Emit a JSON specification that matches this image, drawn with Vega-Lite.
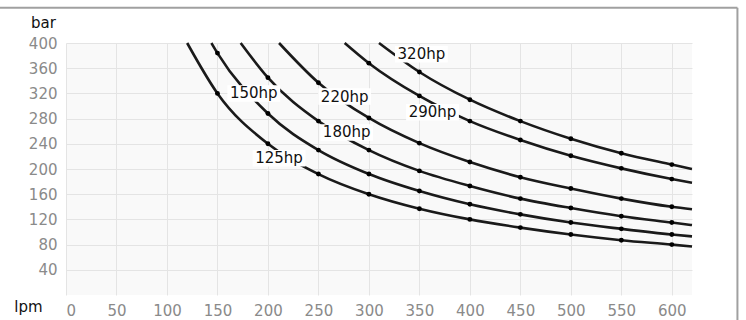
{
  "$schema": "https://vega.github.io/schema/vega-lite/v6.json",
  "width": 626,
  "height": 252,
  "autosize": "none",
  "padding": {"left": 66, "top": 43, "right": 54, "bottom": 25},
  "background": "white",
  "config": {
    "view": {"fill": "#f9f9f9", "stroke": null},
    "axis": {
      "grid": true,
      "gridColor": "#e4e4e4",
      "gridWidth": 1,
      "ticks": false,
      "domain": false,
      "labelOverlap": false,
      "labelColor": "#8a8a8a",
      "labelFont": "DejaVu Sans",
      "labelFontSize": 15,
      "titleFont": "DejaVu Sans",
      "titleFontSize": 15,
      "titleFontWeight": "normal",
      "titleColor": "#111111",
      "titleAngle": 0,
      "titleAlign": "center",
      "titleBaseline": "middle"
    }
  },
  "datasets": {
    "curves": [
      {"hp": "125hp", "lpm": 120, "bar": 400},
      {"hp": "125hp", "lpm": 150, "bar": 320},
      {"hp": "125hp", "lpm": 200, "bar": 240},
      {"hp": "125hp", "lpm": 250, "bar": 192},
      {"hp": "125hp", "lpm": 300, "bar": 160},
      {"hp": "125hp", "lpm": 350, "bar": 137},
      {"hp": "125hp", "lpm": 400, "bar": 120},
      {"hp": "125hp", "lpm": 450, "bar": 107},
      {"hp": "125hp", "lpm": 500, "bar": 96},
      {"hp": "125hp", "lpm": 550, "bar": 87},
      {"hp": "125hp", "lpm": 600, "bar": 80},
      {"hp": "125hp", "lpm": 620, "bar": 77},
      {"hp": "150hp", "lpm": 144, "bar": 400},
      {"hp": "150hp", "lpm": 150, "bar": 384},
      {"hp": "150hp", "lpm": 200, "bar": 288},
      {"hp": "150hp", "lpm": 250, "bar": 230},
      {"hp": "150hp", "lpm": 300, "bar": 192},
      {"hp": "150hp", "lpm": 350, "bar": 165},
      {"hp": "150hp", "lpm": 400, "bar": 144},
      {"hp": "150hp", "lpm": 450, "bar": 128},
      {"hp": "150hp", "lpm": 500, "bar": 115},
      {"hp": "150hp", "lpm": 550, "bar": 105},
      {"hp": "150hp", "lpm": 600, "bar": 96},
      {"hp": "150hp", "lpm": 620, "bar": 93},
      {"hp": "180hp", "lpm": 173, "bar": 400},
      {"hp": "180hp", "lpm": 200, "bar": 345},
      {"hp": "180hp", "lpm": 250, "bar": 276},
      {"hp": "180hp", "lpm": 300, "bar": 230},
      {"hp": "180hp", "lpm": 350, "bar": 197},
      {"hp": "180hp", "lpm": 400, "bar": 173},
      {"hp": "180hp", "lpm": 450, "bar": 153},
      {"hp": "180hp", "lpm": 500, "bar": 138},
      {"hp": "180hp", "lpm": 550, "bar": 125},
      {"hp": "180hp", "lpm": 600, "bar": 115},
      {"hp": "180hp", "lpm": 620, "bar": 111},
      {"hp": "220hp", "lpm": 211, "bar": 400},
      {"hp": "220hp", "lpm": 250, "bar": 337},
      {"hp": "220hp", "lpm": 300, "bar": 281},
      {"hp": "220hp", "lpm": 350, "bar": 241},
      {"hp": "220hp", "lpm": 400, "bar": 211},
      {"hp": "220hp", "lpm": 450, "bar": 187},
      {"hp": "220hp", "lpm": 500, "bar": 169},
      {"hp": "220hp", "lpm": 550, "bar": 153},
      {"hp": "220hp", "lpm": 600, "bar": 140},
      {"hp": "220hp", "lpm": 620, "bar": 136},
      {"hp": "290hp", "lpm": 276, "bar": 400},
      {"hp": "290hp", "lpm": 300, "bar": 368},
      {"hp": "290hp", "lpm": 350, "bar": 316},
      {"hp": "290hp", "lpm": 400, "bar": 276},
      {"hp": "290hp", "lpm": 450, "bar": 246},
      {"hp": "290hp", "lpm": 500, "bar": 221},
      {"hp": "290hp", "lpm": 550, "bar": 201},
      {"hp": "290hp", "lpm": 600, "bar": 184},
      {"hp": "290hp", "lpm": 620, "bar": 178},
      {"hp": "320hp", "lpm": 310, "bar": 400},
      {"hp": "320hp", "lpm": 350, "bar": 354},
      {"hp": "320hp", "lpm": 400, "bar": 310},
      {"hp": "320hp", "lpm": 450, "bar": 276},
      {"hp": "320hp", "lpm": 500, "bar": 248},
      {"hp": "320hp", "lpm": 550, "bar": 225},
      {"hp": "320hp", "lpm": 600, "bar": 207},
      {"hp": "320hp", "lpm": 620, "bar": 200}
    ],
    "labels": [
      {"hp": "320hp", "lpm": 352, "bar": 382},
      {"hp": "290hp", "lpm": 363, "bar": 290},
      {"hp": "220hp", "lpm": 276, "bar": 315},
      {"hp": "180hp", "lpm": 278, "bar": 258},
      {"hp": "150hp", "lpm": 186, "bar": 320},
      {"hp": "125hp", "lpm": 211, "bar": 217}
    ],
    "frame": [{}]
  },
  "layer": [
    {
      "data": {"name": "curves"},
      "mark": {"type": "line", "color": "#1a1a1a", "strokeWidth": 2.6, "interpolate": "monotone"},
      "encoding": {
        "x": {
          "field": "lpm", "type": "quantitative",
          "scale": {"domain": [0, 620], "nice": false, "zero": false},
          "axis": {
            "values": [0, 50, 100, 150, 200, 250, 300, 350, 400, 450, 500, 550, 600],
            "tickCount": 30,
            "labelOverlap": false,
            "labelPadding": 8,
            "labelBaseline": "top",
            "title": "lpm",
            "titleX": -38,
            "titleY": 11
          }
        },
        "y": {
          "field": "bar", "type": "quantitative",
          "scale": {"domain": [0, 400], "nice": false},
          "axis": {
            "values": [40, 80, 120, 160, 200, 240, 280, 320, 360, 400],
            "tickCount": 30,
            "labelOverlap": false,
            "labelPadding": 9,
            "title": "bar",
            "titleX": -23,
            "titleY": -21
          }
        },
        "detail": {"field": "hp"}
      }
    },
    {
      "data": {"name": "curves"},
      "transform": [{"filter": "datum.lpm % 50 == 0"}],
      "mark": {"type": "circle", "color": "#000000", "size": 24, "opacity": 1},
      "encoding": {
        "x": {"field": "lpm", "type": "quantitative"},
        "y": {"field": "bar", "type": "quantitative"}
      }
    },
    {
      "data": {"name": "labels"},
      "mark": {"type": "point", "shape": "M-1.6,-0.5H1.6V0.5H-1.6Z", "size": 1089, "filled": true, "color": "#ffffff", "opacity": 1},
      "encoding": {
        "x": {"field": "lpm", "type": "quantitative"},
        "y": {"field": "bar", "type": "quantitative"}
      }
    },
    {
      "data": {"name": "labels"},
      "mark": {"type": "text", "font": "DejaVu Sans", "fontSize": 15, "color": "#111111", "align": "center", "baseline": "middle"},
      "encoding": {
        "x": {"field": "lpm", "type": "quantitative"},
        "y": {"field": "bar", "type": "quantitative"},
        "text": {"field": "hp"}
      }
    },
    {
      "data": {"name": "frame"},
      "mark": {"type": "rule", "color": "#a0a0a0", "strokeWidth": 2},
      "encoding": {
        "x": {"datum": -66},
        "x2": {"datum": 665},
        "y": {"datum": 456}
      }
    },
    {
      "data": {"name": "frame"},
      "mark": {"type": "rule", "color": "#a0a0a0", "strokeWidth": 2},
      "encoding": {
        "x": {"datum": 665},
        "y": {"datum": 456},
        "y2": {"datum": -45}
      }
    }
  ]
}
